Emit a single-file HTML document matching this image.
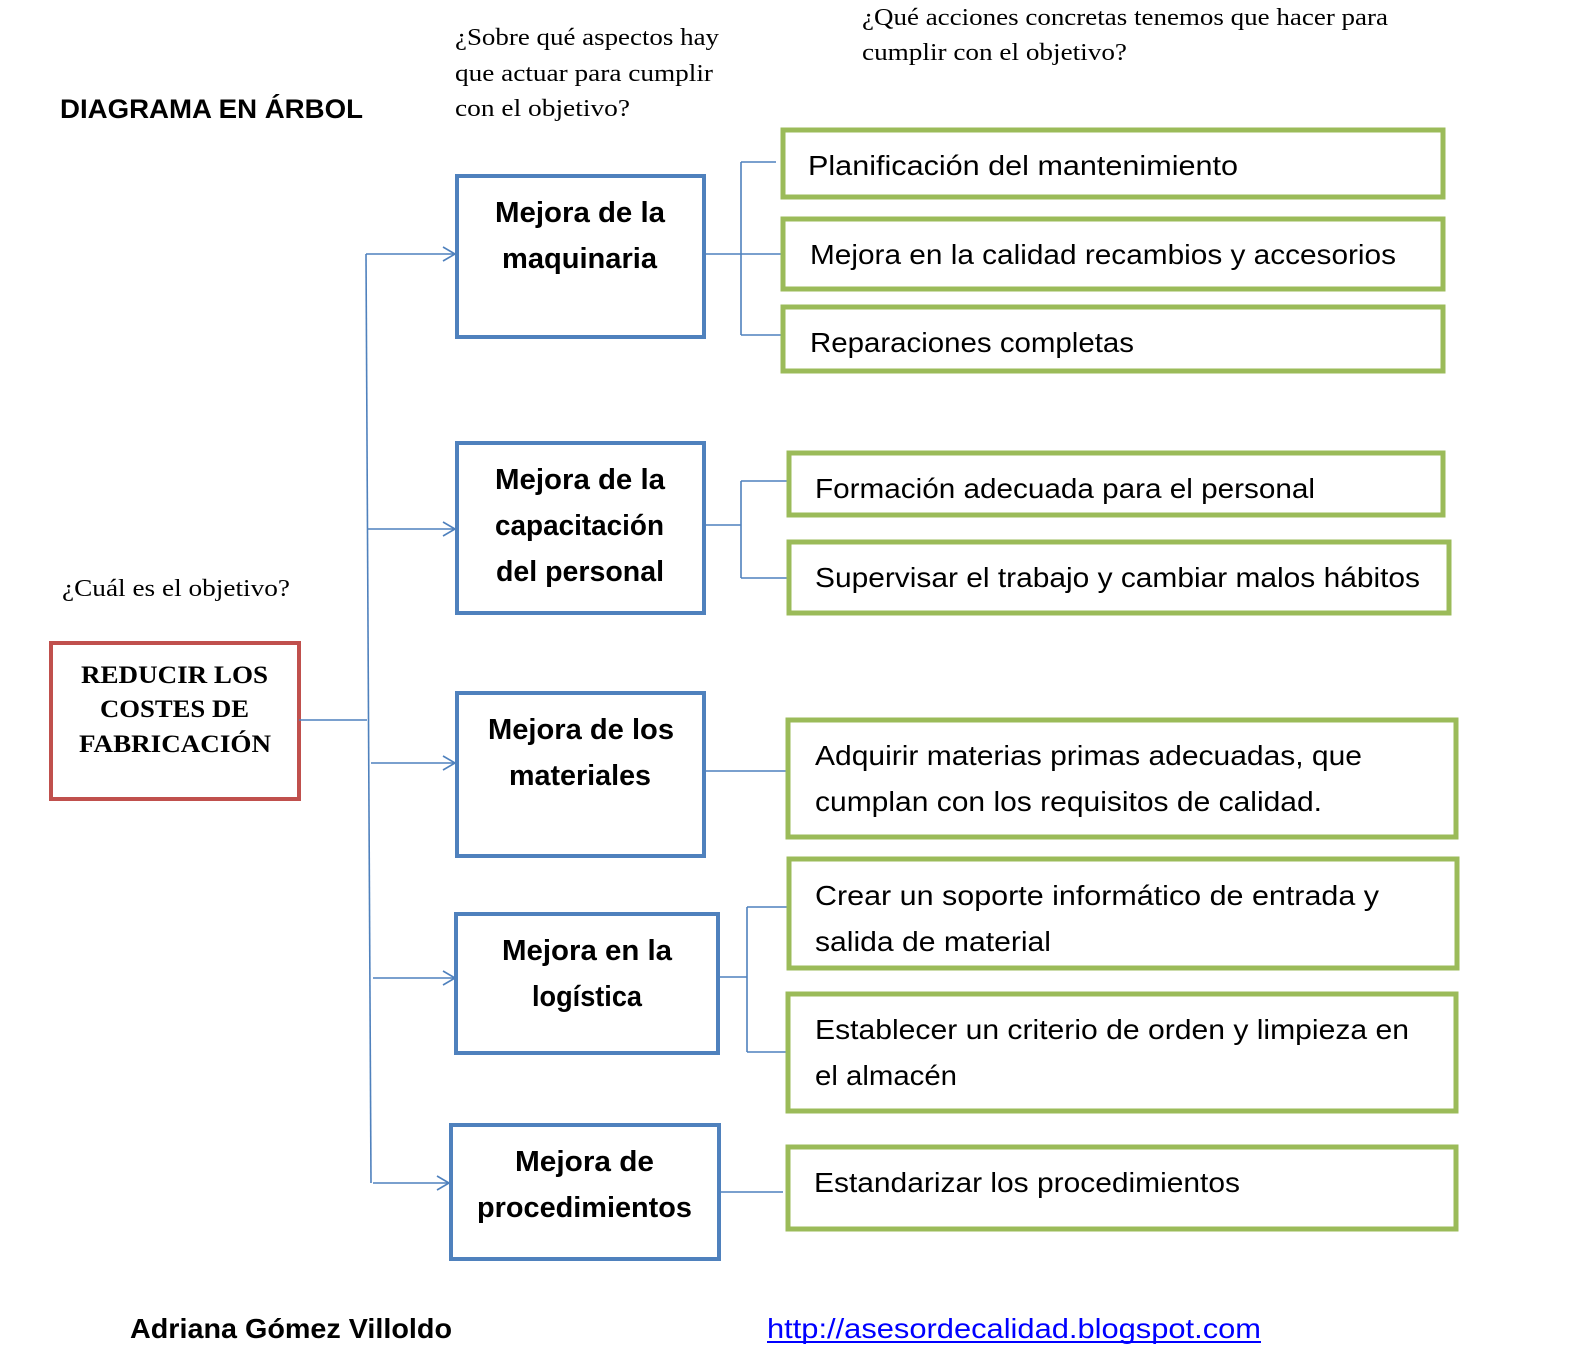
<!DOCTYPE html>
<html><head><meta charset="utf-8"><style>html,body{margin:0;padding:0;background:#fff}svg{display:block}</style></head>
<body>
<svg width="1570" height="1372" viewBox="0 0 1570 1372" xmlns="http://www.w3.org/2000/svg">
<defs><marker id="a" markerWidth="14" markerHeight="16" refX="13" refY="8" orient="auto" markerUnits="userSpaceOnUse"><path d="M1,1 L13,8 L1,15" fill="none" stroke="#4f81bd" stroke-width="1.6"/></marker></defs>
<g font-family="Liberation Serif, serif" font-size="24" fill="#000">
<text x="455" y="45" textLength="264" lengthAdjust="spacingAndGlyphs">¿Sobre qué aspectos hay</text>
<text x="455" y="81" textLength="258" lengthAdjust="spacingAndGlyphs">que actuar para cumplir</text>
<text x="455" y="116" textLength="175" lengthAdjust="spacingAndGlyphs">con el objetivo?</text>
<text x="862" y="25" textLength="526" lengthAdjust="spacingAndGlyphs">¿Qué acciones concretas tenemos que hacer para</text>
<text x="862" y="60" textLength="265" lengthAdjust="spacingAndGlyphs">cumplir con el objetivo?</text>
<text x="62" y="596" textLength="228" lengthAdjust="spacingAndGlyphs">¿Cuál es el objetivo?</text>
</g>
<text x="60" y="118" font-family="Liberation Sans, sans-serif" font-weight="bold" font-size="27" textLength="303" lengthAdjust="spacingAndGlyphs">DIAGRAMA EN ÁRBOL</text>
<rect x="51" y="643" width="248" height="156" fill="none" stroke="#c0504d" stroke-width="4"/>
<g font-family="Liberation Serif, serif" font-weight="bold" font-size="25">
<text x="81" y="683" textLength="187" lengthAdjust="spacingAndGlyphs">REDUCIR LOS</text>
<text x="100" y="717" textLength="149" lengthAdjust="spacingAndGlyphs">COSTES DE</text>
<text x="79" y="752" textLength="192" lengthAdjust="spacingAndGlyphs">FABRICACIÓN</text>
</g>
<g stroke="#4f81bd" stroke-width="1.6" fill="none">
<path d="M299,720 H367"/>
<path d="M366,254 L371,1183"/>
<path d="M366,254 H455" marker-end="url(#a)"/>
<path d="M368,529 H455" marker-end="url(#a)"/>
<path d="M371,763 H455" marker-end="url(#a)"/>
<path d="M373,978 H455" marker-end="url(#a)"/>
<path d="M373,1183 H449" marker-end="url(#a)"/>
<path d="M704,254 H783 M741,162 V335 M741,162 H776 M741,335 H783"/>
<path d="M704,525 H741 M741,481 V578 M741,481 H789 M741,578 H789"/>
<path d="M704,771 H788"/>
<path d="M718,977 H747 M747,907 V1052 M747,907 H789 M747,1052 H789"/>
<path d="M719,1192 H783"/>
</g>
<g fill="none" stroke="#4f81bd" stroke-width="4">
<rect x="457" y="176" width="247" height="161"/>
<rect x="457" y="443" width="247" height="170"/>
<rect x="457" y="693" width="247" height="163"/>
<rect x="456" y="914" width="262" height="139"/>
<rect x="451" y="1125" width="268" height="134"/>
</g>
<g font-family="Liberation Sans, sans-serif" font-weight="bold" font-size="29" fill="#000">
<text x="495" y="222" textLength="170" lengthAdjust="spacingAndGlyphs">Mejora de la</text>
<text x="502" y="268" textLength="155" lengthAdjust="spacingAndGlyphs">maquinaria</text>
<text x="495" y="489" textLength="170" lengthAdjust="spacingAndGlyphs">Mejora de la</text>
<text x="495" y="535" textLength="169" lengthAdjust="spacingAndGlyphs">capacitación</text>
<text x="496" y="581" textLength="168" lengthAdjust="spacingAndGlyphs">del personal</text>
<text x="488" y="739" textLength="186" lengthAdjust="spacingAndGlyphs">Mejora de los</text>
<text x="509" y="785" textLength="142" lengthAdjust="spacingAndGlyphs">materiales</text>
<text x="502" y="960" textLength="170" lengthAdjust="spacingAndGlyphs">Mejora en la</text>
<text x="532" y="1006" textLength="110" lengthAdjust="spacingAndGlyphs">logística</text>
<text x="515" y="1171" textLength="139" lengthAdjust="spacingAndGlyphs">Mejora de</text>
<text x="477" y="1217" textLength="215" lengthAdjust="spacingAndGlyphs">procedimientos</text>
</g>
<g fill="none" stroke="#9bbb59" stroke-width="5">
<rect x="783" y="130" width="660" height="67"/>
<rect x="783" y="219" width="660" height="70"/>
<rect x="783" y="307" width="660" height="64"/>
<rect x="789" y="453" width="654" height="62"/>
<rect x="789" y="542" width="660" height="71"/>
<rect x="788" y="720" width="668" height="117"/>
<rect x="789" y="859" width="668" height="109"/>
<rect x="788" y="994" width="668" height="117"/>
<rect x="788" y="1147" width="668" height="82"/>
</g>
<g font-family="Liberation Sans, sans-serif" font-size="28" fill="#000">
<text x="808" y="175" textLength="430" lengthAdjust="spacingAndGlyphs">Planificación del mantenimiento</text>
<text x="810" y="264" textLength="586" lengthAdjust="spacingAndGlyphs">Mejora en la calidad recambios y accesorios</text>
<text x="810" y="352" textLength="324" lengthAdjust="spacingAndGlyphs">Reparaciones completas</text>
<text x="815" y="498" textLength="500" lengthAdjust="spacingAndGlyphs">Formación adecuada para el personal</text>
<text x="815" y="587" textLength="605" lengthAdjust="spacingAndGlyphs">Supervisar el trabajo y cambiar malos hábitos</text>
<text x="815" y="765" textLength="547" lengthAdjust="spacingAndGlyphs">Adquirir materias primas adecuadas, que</text>
<text x="815" y="811" textLength="507" lengthAdjust="spacingAndGlyphs">cumplan con los requisitos de calidad.</text>
<text x="815" y="905" textLength="564" lengthAdjust="spacingAndGlyphs">Crear un soporte informático de entrada y</text>
<text x="815" y="951" textLength="236" lengthAdjust="spacingAndGlyphs">salida de material</text>
<text x="815" y="1039" textLength="594" lengthAdjust="spacingAndGlyphs">Establecer un criterio de orden y limpieza en</text>
<text x="815" y="1085" textLength="142" lengthAdjust="spacingAndGlyphs">el almacén</text>
<text x="814" y="1192" textLength="426" lengthAdjust="spacingAndGlyphs">Estandarizar los procedimientos</text>
</g>
<text x="130" y="1338" font-family="Liberation Sans, sans-serif" font-weight="bold" font-size="28" textLength="322" lengthAdjust="spacingAndGlyphs">Adriana Gómez Villoldo</text>
<text x="767" y="1338" font-family="Liberation Sans, sans-serif" font-size="28" fill="#0000ff" textLength="494" lengthAdjust="spacingAndGlyphs">http://asesordecalidad.blogspot.com</text>
<line x1="767" y1="1342" x2="1261" y2="1342" stroke="#0000ff" stroke-width="2"/>
</svg>
</body></html>
